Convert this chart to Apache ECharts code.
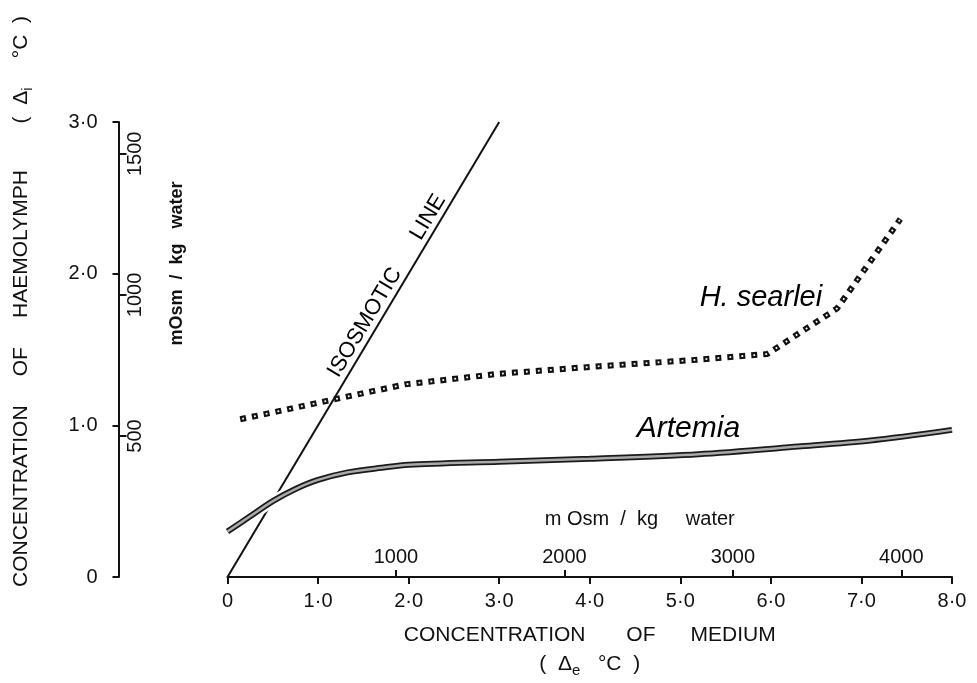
<!DOCTYPE html>
<html>
<head>
<meta charset="utf-8">
<script src="https://cdn.jsdelivr.net/npm/echarts@6/dist/echarts.min.js"></script>
<style>
  html, body { margin: 0; padding: 0; background: #fff; }
  #main { width: 977px; height: 683px; }
</style>
</head>
<body>
<div id="main"></div>
<script>
// medium concentration (Δe °C) -> haemolymph concentration (Δi °C)
const isoX = [0, 3.0];
const isoY = [0, 3.0];

const artemiaX = [0, 0.25, 0.5, 0.75, 1.0, 1.33, 1.7, 2.0, 3.0, 4.0, 5.2, 6.3, 7.1, 8.0];
const artemiaY = [0.30, 0.40, 0.50, 0.58, 0.64, 0.69, 0.72, 0.74, 0.76, 0.78, 0.81, 0.86, 0.90, 0.97];

const searleiX = [0.14, 0.54, 0.93, 1.96, 3.0, 4.11, 5.13, 5.96, 6.73, 7.43];
const searleiY = [1.04, 1.09, 1.14, 1.27, 1.34, 1.39, 1.43, 1.47, 1.77, 2.36];

const xTickLabels = ['0', '1·0', '2·0', '3·0', '4·0', '5·0', '6·0', '7·0', '8·0'];
const yTickLabels = ['0', '1·0', '2·0', '3·0'];
const mosmXTicks = [1000, 2000, 3000, 4000];
const mosmYTicks = [500, 1000, 1500];
const MOSM_PER_DEG = 537.6; // 1 osmol/kg water lowers freezing point by 1.86 °C

// text labels in the plot, placed at data coords
const noteText = ['ISOSMOTIC      LINE', 'H. searlei', 'Artemia'];
const noteX = [1.76, 5.89, 5.09];
const noteY = [1.92, 1.84, 0.98];
const noteRotate = [59, 0, 0];

const pairs = (xs, ys) => xs.map((x, i) => [x, ys[i]]);
const INK = '#111';
const FONT = '"Liberation Sans", Arial, sans-serif';
const Y_OFFSET = 109; // y axis stands apart from the x origin

const chart = echarts.init(document.getElementById('main'), null, { renderer: 'canvas' });

const option = {
  backgroundColor: '#fff',
  animation: false,
  textStyle: { fontFamily: FONT, color: INK },
  grid: { left: 225, right: 25, top: 122, bottom: 106 },
  xAxis: [{
    type: 'value',
    min: 0,
    max: 8,
    interval: 1,
    position: 'bottom',
    axisLine: { onZero: false, lineStyle: { color: INK, width: 2 } },
    axisTick: { inside: false, length: 7, lineStyle: { color: INK, width: 2 } },
    axisLabel: {
      margin: 14,
      fontSize: 20,
      color: INK,
      fontFamily: FONT,
      formatter: v => xTickLabels[Math.round(v)]
    },
    splitLine: { show: false },
    name: '{t|CONCENTRATION       OF      MEDIUM}\n{t|(  Δ}{sub|e}{t|   °C  )}',
    nameLocation: 'middle',
    nameGap: 44,
    nameTextStyle: {
      color: INK,
      rich: {
        t: { fontSize: 21, lineHeight: 29, fontFamily: FONT, color: INK },
        sub: { fontSize: 15, lineHeight: 29, padding: [12, 0, 0, 0], fontFamily: FONT, color: INK }
      }
    }
  }, {
    type: 'value',
    min: 0,
    max: 8 * MOSM_PER_DEG,
    position: 'bottom',
    axisLine: { show: false, onZero: false },
    axisTick: { inside: true, length: 7, customValues: mosmXTicks, lineStyle: { color: INK, width: 2 } },
    axisLabel: {
      inside: true,
      margin: 10,
      fontSize: 20,
      color: INK,
      fontFamily: FONT,
      customValues: mosmXTicks,
      formatter: v => String(v)
    },
    splitLine: { show: false },
    name: 'm Osm  /  kg     water',
    nameLocation: 'middle',
    nameGap: -68,
    nameTextStyle: { fontSize: 20, color: INK, fontFamily: FONT, padding: [0, 0, 0, 100] }
  }],
  yAxis: [{
    type: 'value',
    min: 0,
    max: 3,
    interval: 1,
    position: 'left',
    offset: Y_OFFSET,
    axisLine: { show: true, onZero: false, lineStyle: { color: INK, width: 2 } },
    axisTick: { show: true, inside: false, length: 6, lineStyle: { color: INK, width: 2 } },
    axisLabel: {
      margin: 21,
      fontSize: 20,
      color: INK,
      fontFamily: FONT,
      formatter: v => yTickLabels[Math.round(v)]
    },
    splitLine: { show: false },
    name: '{t|CONCENTRATION     OF     HAEMOLYMPH        (  Δ}{sub|i}{t|     °C  )}',
    nameLocation: 'middle',
    nameGap: 84,
    nameTextStyle: {
      color: INK,
      padding: [0, 0, 0, 96],
      rich: {
        t: { fontSize: 21, lineHeight: 26, fontFamily: FONT, color: INK },
        sub: { fontSize: 15, lineHeight: 26, padding: [12, 0, 0, 0], fontFamily: FONT, color: INK }
      }
    }
  }, {
    type: 'value',
    min: 0,
    max: 3 * MOSM_PER_DEG,
    position: 'left',
    offset: Y_OFFSET,
    axisLine: { show: false, onZero: false },
    axisTick: { show: true, inside: true, length: 8, customValues: mosmYTicks, lineStyle: { color: INK, width: 2 } },
    axisLabel: {
      inside: true,
      rotate: 90,
      margin: 7,
      fontSize: 20,
      color: INK,
      fontFamily: FONT,
      customValues: mosmYTicks,
      formatter: v => String(v)
    },
    splitLine: { show: false },
    name: 'mOsm  /  kg   water',
    nameLocation: 'middle',
    nameGap: -68,
    nameTextStyle: { fontSize: 18, fontWeight: 'bold', color: INK, fontFamily: FONT, padding: [0, 0, 0, 172] }
  }],
  series: [
    {
      name: 'Isosmotic line',
      type: 'line',
      data: pairs(isoX, isoY),
      symbol: 'none',
      z: 2,
      lineStyle: { color: INK, width: 2 }
    },
    {
      name: 'Artemia halo',
      type: 'line',
      data: pairs(artemiaX, artemiaY),
      smooth: 0.3,
      symbol: 'none',
      z: 3,
      lineStyle: { color: '#fff', width: 11 }
    },
    {
      name: 'Artemia',
      type: 'line',
      data: pairs(artemiaX, artemiaY),
      smooth: 0.3,
      symbol: 'none',
      z: 4,
      lineStyle: { color: '#1a1a1a', width: 6 }
    },
    {
      name: 'Artemia core',
      type: 'line',
      data: pairs(artemiaX, artemiaY),
      smooth: 0.3,
      symbol: 'none',
      z: 5,
      lineStyle: { color: '#aaa', width: 2.5 }
    },
    {
      name: 'H. searlei',
      type: 'line',
      data: pairs(searleiX, searleiY),
      symbol: 'none',
      z: 6,
      lineStyle: { color: INK, width: 6, type: [6, 6], cap: 'butt' }
    },
    {
      name: 'H. searlei core',
      type: 'line',
      data: pairs(searleiX, searleiY),
      symbol: 'none',
      z: 7,
      lineStyle: { color: '#fff', width: 1.8, type: [1.8, 10.2], dashOffset: -2.1, cap: 'butt' }
    },
    {
      name: 'notes',
      type: 'scatter',
      symbolSize: 0,
      z: 8,
      itemStyle: { opacity: 1 },
      emphasis: { disabled: true },
      data: noteText.map((t, i) => ({
        value: [noteX[i], noteY[i]],
        label: {
          show: true,
          position: 'inside',
          formatter: t,
          rotate: noteRotate[i],
          fontSize: i === 0 ? 22 : (i === 1 ? 29 : 30),
          fontStyle: i === 0 ? 'normal' : 'italic',
          fontFamily: FONT,
          color: '#000',
          opacity: 1
        }
      }))
    }
  ]
};

chart.setOption(option);
</script>
</body>
</html>
